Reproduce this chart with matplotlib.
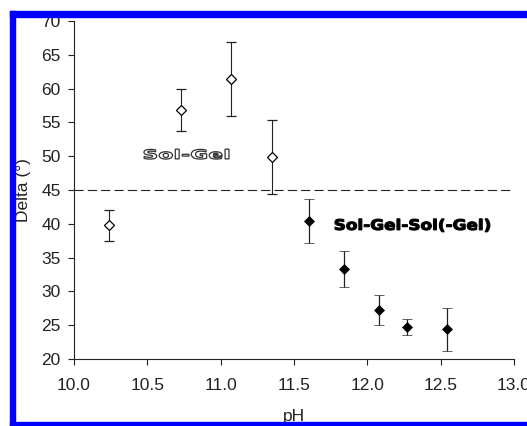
import matplotlib
matplotlib.use("Agg")
import matplotlib.pyplot as plt
from matplotlib.patches import PathPatch, Rectangle
from matplotlib.textpath import TextPath
from matplotlib.font_manager import FontProperties
from matplotlib.transforms import Affine2D, IdentityTransform

# ==========================================================
# DATA
# ==========================================================

# sol-gel region (open diamonds)
ph_solgel = [10.24, 10.73, 11.07, 11.35]
delta_solgel = [39.8, 56.8, 61.4, 49.9]
err_solgel = [2.3, 3.1, 5.5, 5.5]

# sol-gel-sol(-gel) region (filled diamonds)
ph_sgs = [11.60, 11.84, 12.08, 12.27, 12.54]
delta_sgs = [40.4, 33.3, 27.3, 24.7, 24.4]
err_sgs = [3.3, 2.7, 2.2, 1.2, 3.2]

threshold = 45

x_ticks = [10.0, 10.5, 11.0, 11.5, 12.0, 12.5, 13.0]
y_ticks = [20, 25, 30, 35, 40, 45, 50, 55, 60, 65, 70]

# ==========================================================
# STYLE
# ==========================================================

plt.rcParams["font.family"] = ["Liberation Sans", "DejaVu Sans"]
plt.rcParams["font.size"] = 12.5

W, H = 527, 426
fig = plt.figure(figsize=(W / 100, H / 100), dpi=100)
ax = fig.add_axes([74 / W, 1 - 359 / H, 440 / W, 338 / H])

INK = "#222222"

# ==========================================================
# DRAW
# ==========================================================

ax.axhline(threshold, color=INK, lw=0.8, linestyle=(0, (8.2, 3.8)), zorder=1)

ax.errorbar(ph_solgel, delta_solgel, yerr=err_solgel, fmt="D",
            markersize=5, markerfacecolor="white", markeredgecolor="black",
            markeredgewidth=0.9, ecolor=INK, elinewidth=0.8, capsize=3.6,
            capthick=0.8, zorder=3)

ax.errorbar(ph_sgs, delta_sgs, yerr=err_sgs, fmt="D",
            markersize=5.2, markerfacecolor="black", markeredgecolor="black",
            markeredgewidth=0.5, ecolor=INK, elinewidth=0.9, capsize=3.6,
            capthick=0.9, zorder=3)

ax.set_xlim(10, 13)
ax.set_ylim(20, 70)
ax.set_xticks(x_ticks)
ax.set_xticklabels([f"{t:.1f}" for t in x_ticks])
ax.set_yticks(y_ticks)

for side in ("top", "right"):
    ax.spines[side].set_visible(False)
for side in ("left", "bottom"):
    ax.spines[side].set_color(INK)
    ax.spines[side].set_linewidth(0.8)

ax.tick_params(axis="both", direction="out", length=4.5, width=0.8,
               color=INK, labelcolor=INK)
ax.tick_params(axis="y", pad=5)
ax.tick_params(axis="x", pad=9)

ax.set_xlabel("pH", color=INK)
ax.set_ylabel("Delta (°)", color=INK)
ax.xaxis.set_label_coords(0.5, -0.148)
ax.yaxis.set_label_coords(-0.097, 0.5)


# wide bold labels drawn as outlines so they can be stretched
def region_label(x, y, s, cap_px, width_px, face, edge, lw):
    prop = FontProperties(family="DejaVu Sans", weight="bold")
    path = TextPath((0, 0), s, size=10, prop=prop)
    ext = path.get_extents()
    cap = TextPath((0, 0), "S", size=10, prop=prop).get_extents().height
    x0, y0 = ax.transData.transform((x, y))
    tr = (Affine2D().translate(-ext.x0, 0)
          .scale(width_px / ext.width, cap_px / cap)
          .translate(x0, y0))
    patch = PathPatch(tr.transform_path(path), facecolor=face,
                      edgecolor=edge, lw=lw, transform=IdentityTransform(),
                      clip_on=False, zorder=4)
    fig.add_artist(patch)


region_label(10.477, 49.6, "Sol-Gel", 9.7, 85, "white", "#333333", 0.9)
region_label(11.779, 39.1, "Sol-Gel-Sol(-Gel)", 11, 155, "black", "black", 0.8)

# blue border round the figure
BLUE = "#0000ff"
fig.add_artist(Rectangle((10 / W, 0), 5 / W, (H - 11) / H,
                         transform=fig.transFigure, color=BLUE, zorder=10))
fig.add_artist(Rectangle((10 / W, 1 - 16.5 / H), 1, 5.5 / H,
                         transform=fig.transFigure, color=BLUE, zorder=10))
fig.add_artist(Rectangle((10 / W, 0), 1, 4.5 / H,
                         transform=fig.transFigure, color=BLUE, zorder=10))

# ==========================================================
# SAVE
# ==========================================================

fig.savefig("out.png", dpi=100)
